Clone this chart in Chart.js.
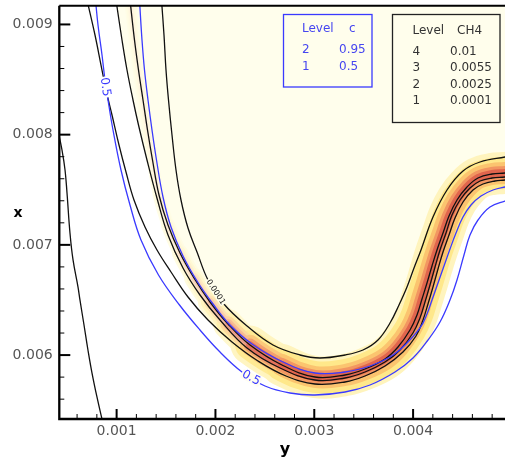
<!DOCTYPE html>
<html>
<head>
<meta charset="utf-8">
<script src="https://cdn.jsdelivr.net/npm/chart.js@4.4.1/dist/chart.umd.min.js"></script>
<style>
  html, body { margin: 0; padding: 0; background: #fff; }
  canvas { display: block; }
</style>
</head>
<body>
<canvas id="contour" width="505" height="461"></canvas>
<script>
// every curve is a list of [y, x] pairs, y along the bottom axis, x up the side

// c = 0.5
var cHalf = [
  [0.0007863, 0.0092217], [0.0008116, 0.0089949], [0.0008521, 0.0087227], [0.0008824, 0.0084958],
  [0.0009128, 0.0083144], [0.0009634, 0.0080422], [0.0010443, 0.0076792], [0.0011354, 0.0073616],
  [0.0012467, 0.0070441], [0.0014238, 0.0067265], [0.0016363, 0.0064544], [0.0018437, 0.0062275],
  [0.0020461, 0.0060279], [0.0022687, 0.0058464], [0.0025015, 0.0057194], [0.0027544, 0.0056559],
  [0.0030074, 0.0056378], [0.0033110, 0.0056650], [0.0035639, 0.0057285], [0.0038169, 0.0058464],
  [0.0039990, 0.0059735], [0.0041508, 0.0061368], [0.0042723, 0.0063001], [0.0043734, 0.0064997],
  [0.0044443, 0.0066812], [0.0045151, 0.0069080], [0.0045758, 0.0070895], [0.0046567, 0.0072256],
  [0.0047782, 0.0073435], [0.0049299, 0.0073980], [0.0050008, 0.0074161]
];

// c = 0.95
var cHigh = [
  [0.0012315, 0.0092217], [0.0012568, 0.0088588], [0.0012821, 0.0085866], [0.0013176, 0.0083144],
  [0.0013580, 0.0080422], [0.0014035, 0.0077700], [0.0014693, 0.0074343], [0.0015503, 0.0071621],
  [0.0016717, 0.0068989], [0.0018134, 0.0066721], [0.0019753, 0.0064634], [0.0021472, 0.0062729],
  [0.0023699, 0.0061005], [0.0026836, 0.0059372], [0.0030074, 0.0058374], [0.0033110, 0.0058464],
  [0.0035639, 0.0059009], [0.0037663, 0.0059826], [0.0039181, 0.0060914], [0.0040698, 0.0062457],
  [0.0041407, 0.0063727], [0.0041913, 0.0064997], [0.0042520, 0.0066539], [0.0043127, 0.0068082],
  [0.0043734, 0.0069625], [0.0044341, 0.0071076], [0.0045049, 0.0072528], [0.0045859, 0.0073616],
  [0.0046871, 0.0074433], [0.0048085, 0.0074978], [0.0049299, 0.0075250], [0.0050008, 0.0075340]
];

// CH4 = 0.0001, inner edge of the flame
var ch4Inner = [
  [0.0014541, 0.0092217], [0.0014794, 0.0089042], [0.0014997, 0.0085866], [0.0015250, 0.0083144],
  [0.0015604, 0.0079968], [0.0016009, 0.0076792], [0.0016514, 0.0074070], [0.0017223, 0.0071530],
  [0.0018134, 0.0069352], [0.0019247, 0.0066812], [0.0020765, 0.0064725], [0.0023193, 0.0062638],
  [0.0025824, 0.0060914], [0.0028556, 0.0060007], [0.0030580, 0.0059735], [0.0033110, 0.0060007],
  [0.0034931, 0.0060460], [0.0036449, 0.0061368], [0.0037663, 0.0062910], [0.0038574, 0.0064544],
  [0.0039383, 0.0066177], [0.0040092, 0.0067900], [0.0040800, 0.0069534], [0.0042014, 0.0072528],
  [0.0043431, 0.0074978], [0.0045049, 0.0076702], [0.0046770, 0.0077519], [0.0049299, 0.0077972],
  [0.0050008, 0.0078063]
];

// the three reaction-zone levels, outer to inner
var ch4Outer = [
  [0.0007003, 0.0092217], [0.0007812, 0.0089042], [0.0008420, 0.0086319], [0.0008926, 0.0084051],
  [0.0009533, 0.0081783], [0.0010241, 0.0079061], [0.0010949, 0.0076611], [0.0011759, 0.0074070],
  [0.0012872, 0.0071621], [0.0014086, 0.0069534], [0.0015503, 0.0067537], [0.0017223, 0.0065270],
  [0.0019247, 0.0063182], [0.0021675, 0.0061187], [0.0024306, 0.0059463], [0.0027140, 0.0058102],
  [0.0030074, 0.0057376], [0.0033110, 0.0057557], [0.0035134, 0.0058102], [0.0037157, 0.0059009],
  [0.0038978, 0.0060279], [0.0040294, 0.0061731], [0.0041002, 0.0063182], [0.0041508, 0.0064634],
  [0.0042014, 0.0066177], [0.0042520, 0.0067810], [0.0043026, 0.0069352], [0.0043633, 0.0070895],
  [0.0044240, 0.0072437], [0.0045049, 0.0073889], [0.0046061, 0.0074978], [0.0047073, 0.0075522],
  [0.0048288, 0.0075794], [0.0049299, 0.0075885], [0.0050008, 0.0075976]
];

var ch4Mid = [
  [0.0009937, 0.0092217], [0.0010545, 0.0088588], [0.0011051, 0.0085866], [0.0011658, 0.0083144],
  [0.0012214, 0.0080876], [0.0013074, 0.0077700], [0.0014136, 0.0074070], [0.0015199, 0.0070895],
  [0.0016717, 0.0067900], [0.0018437, 0.0065451], [0.0020461, 0.0063182], [0.0023193, 0.0060642],
  [0.0026532, 0.0058827], [0.0030074, 0.0057739], [0.0033110, 0.0057920], [0.0035134, 0.0058464],
  [0.0037157, 0.0059372], [0.0038675, 0.0060460], [0.0039990, 0.0062003], [0.0040698, 0.0063364],
  [0.0041205, 0.0064816], [0.0041711, 0.0066358], [0.0042217, 0.0067991], [0.0042723, 0.0069534],
  [0.0043330, 0.0071076], [0.0043937, 0.0072709], [0.0044746, 0.0074070], [0.0045758, 0.0075159],
  [0.0046770, 0.0075794], [0.0047984, 0.0076066], [0.0049299, 0.0076157], [0.0050008, 0.0076248]
];

var ch4Core = [
  [0.0011354, 0.0092217], [0.0011809, 0.0088588], [0.0012214, 0.0085866], [0.0012670, 0.0083144],
  [0.0013125, 0.0080422], [0.0013631, 0.0077700], [0.0014289, 0.0074525], [0.0015199, 0.0071802],
  [0.0016414, 0.0069262], [0.0017830, 0.0066993], [0.0019449, 0.0064816], [0.0021270, 0.0062819],
  [0.0023497, 0.0060914], [0.0026735, 0.0059100], [0.0030074, 0.0058011], [0.0033110, 0.0058192],
  [0.0035134, 0.0058737], [0.0037157, 0.0059644], [0.0038472, 0.0060733], [0.0039687, 0.0062275],
  [0.0040395, 0.0063636], [0.0040901, 0.0065088], [0.0041407, 0.0066539], [0.0041913, 0.0068082],
  [0.0042419, 0.0069534], [0.0043026, 0.0071076], [0.0043633, 0.0072619], [0.0044443, 0.0074070],
  [0.0045454, 0.0075250], [0.0046567, 0.0076066], [0.0047984, 0.0076429], [0.0049299, 0.0076520],
  [0.0050008, 0.0076611]
];

// lone CH4 line near the left wall
var ch4Wall = [
  [0.000402, 0.008060], [0.000447, 0.007861], [0.000478, 0.007679], [0.000498, 0.007471],
  [0.000528, 0.007108], [0.000559, 0.006863], [0.000609, 0.006618], [0.000629, 0.006500],
  [0.000670, 0.006273], [0.000710, 0.006046], [0.000751, 0.005837], [0.000801, 0.005620],
  [0.000852, 0.005420], [0.000867, 0.005366]
];

var bottomTicks = [0.001, 0.002, 0.003, 0.004];
var leftTicks = [0.006, 0.007, 0.008, 0.009];

var cLevels = ['2', '1'];
var cValues = ['0.95', '0.5'];
var ch4Levels = ['4', '3', '2', '1'];
var ch4Values = ['0.01', '0.0055', '0.0025', '0.0001'];

var lineLabels = [
  { text: '0.5', x: 0.000884, y: 0.008432 },
  { text: '0.5', x: 0.002360, y: 0.005792 },
  { text: '0.0001', x: 0.002001, y: 0.006572 }
];

var FONT = "'DejaVu Sans', sans-serif";
var BLUE = '#3a3aff';
var CREAM = '#fffeec';

function pts(arr) {
  return arr.map(function (p) { return { x: p[0], y: p[1] }; });
}

function contour(data, color, order) {
  return {
    data: pts(data), showLine: true, pointRadius: 0, borderColor: color, borderWidth: 1.3,
    tension: 0.4, capBezierPoints: false, clip: 0, fill: false, order: order
  };
}

function hexRgb(h) {
  return [parseInt(h.substr(1, 2), 16), parseInt(h.substr(3, 2), 16), parseInt(h.substr(5, 2), 16)];
}

function mix(a, b, t) {
  var p = hexRgb(a), q = hexRgb(b);
  return 'rgb(' + p.map(function (v, i) { return Math.round(v + (q[i] - v) * t); }).join(',') + ')';
}

// how hot the reaction zone is along y: faint up the left arm, full at the bottom and right
function heat(y) {
  if (y >= 0.0026) return 1;
  var t = Math.max(0, (y - 0.00135) / 0.00125);
  return Math.min(1, 0.1 + 0.9 * Math.pow(t, 1.5));
}

var glowWidths = [42, 32, 22, 14, 8];
var glowTones = ['#fff4bd', '#ffe88a', '#fbc46f', '#f29661', '#e0654d'];

var datasets = [];
datasets.push(contour(ch4Wall, '#111', 1));
datasets.push(contour(ch4Inner, '#111', 2));
datasets.push(contour(ch4Outer, '#111', 2));
datasets.push(contour(ch4Mid, '#111', 2));
datasets.push(contour(ch4Core, '#111', 2));
datasets.push(contour(cHalf, BLUE, 1));
datasets.push(contour(cHigh, BLUE, 1));

// reaction zone colouring, stacked strokes from wide pale to narrow red
glowWidths.forEach(function (w, i) {
  var tone = glowTones[i];
  datasets.push({
    data: pts(ch4Core), showLine: true, pointRadius: 0, borderColor: tone, borderWidth: w,
    borderCapStyle: 'round', borderJoinStyle: 'round', tension: 0.4, capBezierPoints: false,
    clip: 0, fill: false, order: 20 - i,
    segment: {
      borderColor: function (c) { return mix(CREAM, tone, heat((c.p0.parsed.x + c.p1.parsed.x) / 2)); },
      borderWidth: function (c) { return w * (0.2 + 0.8 * heat((c.p0.parsed.x + c.p1.parsed.x) / 2)); }
    }
  });
});

// pale fuel side inside the flame
datasets.push({
  data: pts(ch4Mid), showLine: true, pointRadius: 0, borderWidth: 0, borderColor: 'rgba(0,0,0,0)',
  backgroundColor: CREAM, fill: 'end', tension: 0.4, capBezierPoints: false, clip: 0, order: 30
});

var labelLook = [
  { angle: 82, size: 12, color: BLUE, bg: '#ffffff' },
  { angle: 28, size: 12, color: BLUE, bg: '#fffdf0' },
  { angle: 57, size: 8, color: '#222', bg: CREAM }
];

function legendBox(c, x, y, w, h, edge, ink, head, headX, levels, values, rowY, levelX, valueX) {
  c.strokeStyle = edge;
  c.lineWidth = 1.3;
  c.strokeRect(x, y, w, h);
  c.fillStyle = ink;
  c.font = '12px ' + FONT;
  c.textAlign = 'left';
  c.textBaseline = 'middle';
  c.fillText(head[0], levelX, rowY[0]);
  c.fillText(head[1], headX, rowY[0]);
  levels.forEach(function (l, i) {
    c.fillText(l, levelX, rowY[i + 1]);
    c.fillText(values[i], valueX, rowY[i + 1]);
  });
}

var frame = {
  id: 'frame',
  beforeDraw: function (chart) {
    var c = chart.ctx;
    c.save();
    c.fillStyle = '#fff';
    c.fillRect(0, 0, chart.width, chart.height);
    c.restore();
  },
  afterDatasetsDraw: function (chart) {
    var c = chart.ctx, sx = chart.scales.x, sy = chart.scales.y, a = chart.chartArea;
    c.save();
    c.beginPath();
    c.rect(a.left, a.top, a.right - a.left, a.bottom - a.top);
    c.clip();
    lineLabels.forEach(function (l, i) {
      var st = labelLook[i];
      c.save();
      c.translate(sx.getPixelForValue(l.x), sy.getPixelForValue(l.y));
      c.rotate(st.angle * Math.PI / 180);
      c.font = st.size + 'px ' + FONT;
      var w = c.measureText(l.text).width;
      c.fillStyle = st.bg;
      c.fillRect(-w / 2 - 1, -st.size * 0.4, w + 2, st.size * 0.8);
      c.fillStyle = st.color;
      c.textAlign = 'center';
      c.textBaseline = 'middle';
      c.fillText(l.text, 0, 0);
      c.restore();
    });
    c.restore();
  },
  afterDraw: function (chart) {
    var c = chart.ctx, sx = chart.scales.x, sy = chart.scales.y, a = chart.chartArea;
    c.save();
    c.strokeStyle = '#000';

    // inward tick marks, minor every 0.0002
    for (var k = 2; k <= 25; k++) {
      var v = k * 0.0002, px = sx.getPixelForValue(v);
      if (px < a.left + 1 || px > a.right) continue;
      var major = k % 5 === 0;
      c.lineWidth = major ? 2 : 1;
      c.beginPath();
      c.moveTo(px, a.bottom);
      c.lineTo(px, a.bottom - (major ? 10 : 5));
      c.stroke();
    }
    for (var m = 27; m <= 46; m++) {
      var u = m * 0.0002, py = sy.getPixelForValue(u);
      if (py < a.top || py > a.bottom - 1) continue;
      var big = m % 5 === 0;
      c.lineWidth = big ? 2 : 1;
      c.beginPath();
      c.moveTo(a.left, py);
      c.lineTo(a.left + (big ? 11 : 5), py);
      c.stroke();
    }

    // frame: left and bottom axes, top edge
    c.lineWidth = 2.3;
    c.beginPath();
    c.moveTo(a.left, a.top);
    c.lineTo(a.left, a.bottom);
    c.lineTo(a.right, a.bottom);
    c.stroke();
    c.lineWidth = 2;
    c.beginPath();
    c.moveTo(a.left, a.top);
    c.lineTo(a.right, a.top);
    c.stroke();

    // axis titles
    c.fillStyle = '#000';
    c.textAlign = 'center';
    c.textBaseline = 'alphabetic';
    c.font = 'bold 14px ' + FONT;
    c.fillText('x', 18, 217);
    c.font = 'bold 16px ' + FONT;
    c.fillText('y', 285, 454);

    legendBox(c, 283.5, 14.5, 88.5, 72.5, BLUE, '#4646f0', ['Level', 'c'], 349,
      cLevels, cValues, [28.5, 50, 66.5], 302, 339);
    legendBox(c, 392.5, 14.5, 107.5, 108, '#222', '#333', ['Level', 'CH4'], 457,
      ch4Levels, ch4Values, [31, 52, 68.2, 84.4, 100.6], 412.5, 450);
    c.restore();
  }
};

var tickFont = { family: FONT, size: 14 };

new Chart(document.getElementById('contour'), {
  type: 'scatter',
  data: { datasets: datasets },
  options: {
    responsive: false,
    animation: false,
    events: [],
    layout: { padding: { top: 5.7, left: 0, right: 0, bottom: 0 } },
    plugins: { legend: { display: false }, tooltip: { enabled: false } },
    scales: {
      x: {
        type: 'linear', min: 0.00042, max: 0.00493,
        grid: { display: false, drawTicks: false }, border: { display: false },
        ticks: { font: tickFont, color: '#555', padding: 4, autoSkip: false, maxRotation: 0,
          callback: function (v) { return v.toFixed(3); } },
        afterBuildTicks: function (s) { s.ticks = bottomTicks.map(function (v) { return { value: v }; }); },
        afterFit: function (s) { s.height = 42; s.paddingLeft = 0; s.paddingRight = 0; }
      },
      y: {
        type: 'linear', min: 0.00542, max: 0.00917,
        grid: { display: false, drawTicks: false }, border: { display: false },
        ticks: { font: tickFont, color: '#555', padding: 6.6, autoSkip: false,
          callback: function (v) { return v.toFixed(3); } },
        afterBuildTicks: function (s) { s.ticks = leftTicks.map(function (v) { return { value: v }; }); },
        afterFit: function (s) { s.width = 59.3; s.paddingTop = 0; s.paddingBottom = 0; }
      }
    }
  },
  plugins: [frame]
});
</script>
</body>
</html>
